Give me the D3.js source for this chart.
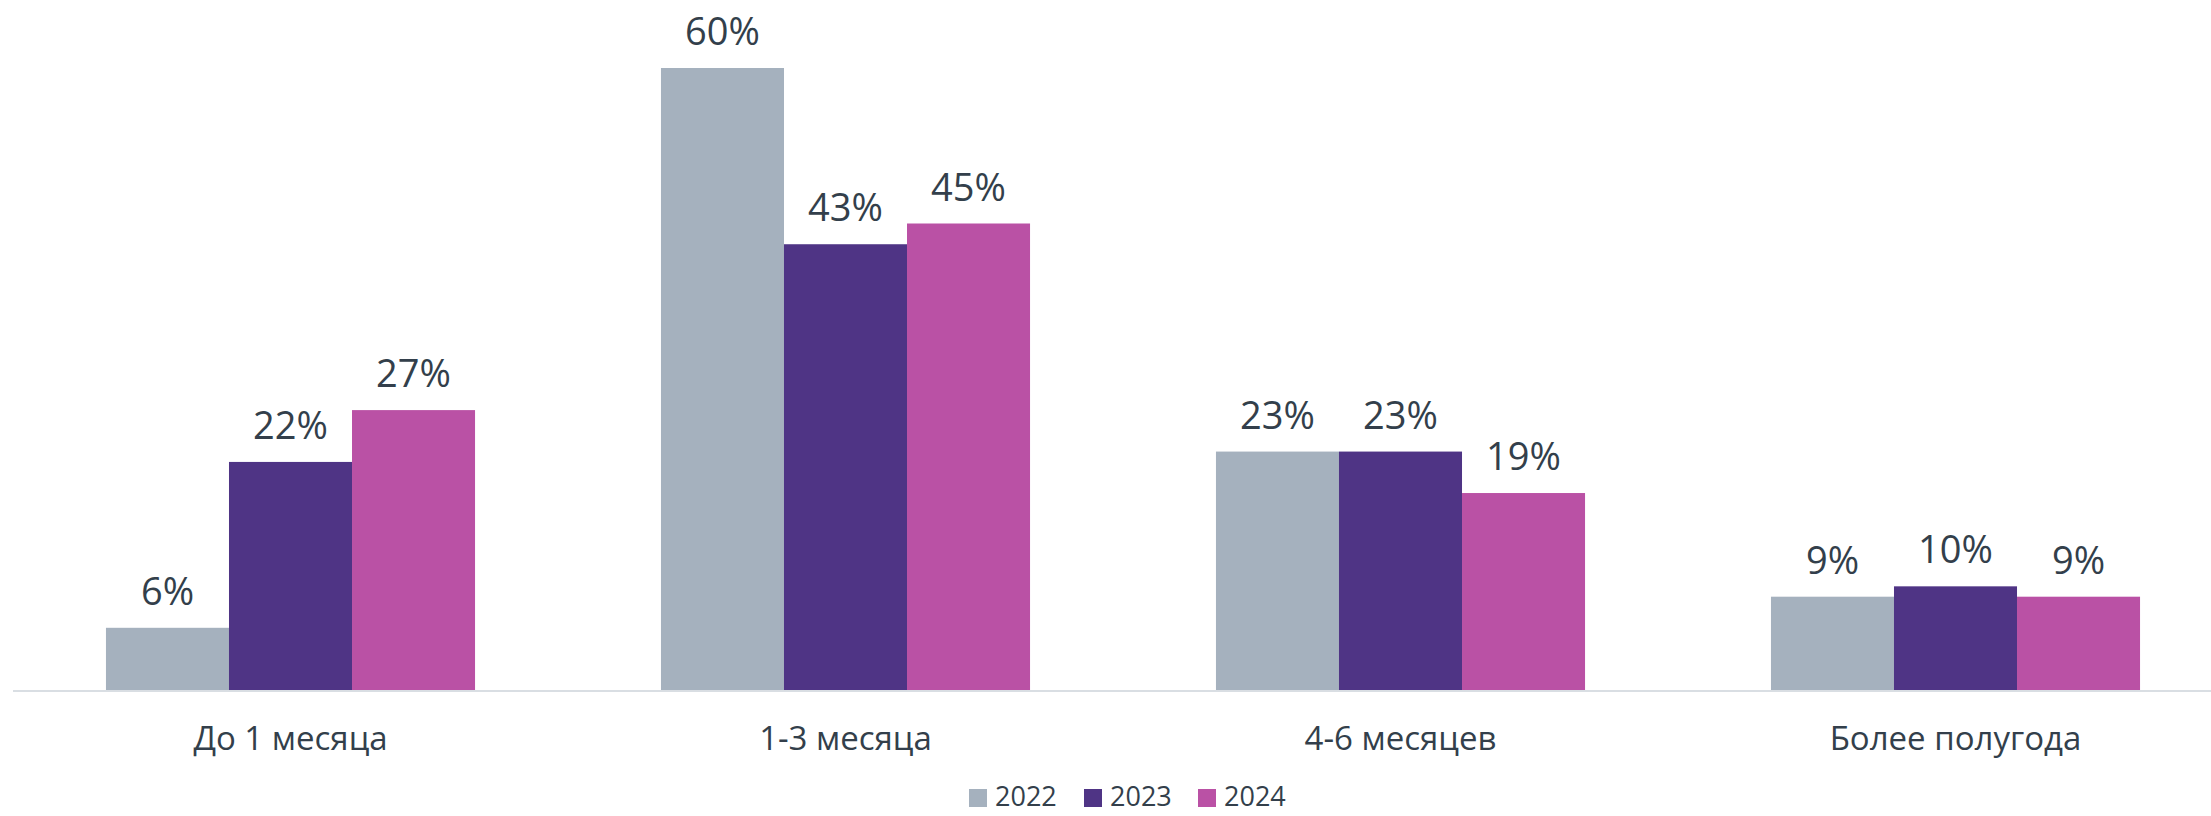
<!DOCTYPE html>
<html lang="ru">
<head>
<meta charset="UTF-8"/>
<title>Срок поиска</title>
<script src="https://d3js.org/d3.v7.min.js"></script>
<style>
	body { margin: 0; background: #fff; }
	svg { display: block; }
	text { font-family: "Open Sans", "Noto Sans", sans-serif; fill: #333f4b; }
</style>
</head>
<body>
<script>
	var w = 2211;
	var h = 816;

	var categories = ["До 1 месяца", "1-3 месяца", "4-6 месяцев", "Более полугода"];
	var years = ["2022", "2023", "2024"];
	var values2022 = [6, 60, 23, 9];
	var values2023 = [22, 43, 23, 10];
	var values2024 = [27, 45, 19, 9];
	var colors = ["#a5b1be", "#4f3485", "#ba51a5"];

	var series = [values2022, values2023, values2024];

	var baseY = 690;

	var x0 = d3.scaleBand()
		.domain(categories)
		.range([13, 2233])
		.paddingInner(0.335)
		.paddingOuter(0.1675);

	var x1 = d3.scaleBand()
		.domain(years)
		.range([0, x0.bandwidth()]);

	var y = d3.scaleLinear()
		.domain([0, 60])
		.range([baseY, 68]);

	var svg = d3.select("body")
		.append("svg")
		.attr("width", w)
		.attr("height", h);

	// axis line
	svg.append("line")
		.attr("x1", 13)
		.attr("x2", w)
		.attr("y1", baseY + 1)
		.attr("y2", baseY + 1)
		.attr("stroke", "#d9dee3")
		.attr("stroke-width", 2);

	var groups = svg.selectAll("g.grp")
		.data(categories)
		.enter()
		.append("g")
		.attr("class", "grp")
		.attr("transform", function(d) { return "translate(" + x0(d) + ",0)"; });

	groups.selectAll("rect")
		.data(function(d, i) {
			return years.map(function(yr, j) { return {yr: yr, v: series[j][i], c: colors[j]}; });
		})
		.enter()
		.append("rect")
		.attr("x", function(d) { return x1(d.yr); })
		.attr("y", function(d) { return y(d.v); })
		.attr("width", x1.bandwidth())
		.attr("height", function(d) { return baseY - y(d.v); })
		.attr("fill", function(d) { return d.c; });

	groups.selectAll("text.val")
		.data(function(d, i) {
			return years.map(function(yr, j) { return {yr: yr, v: series[j][i]}; });
		})
		.enter()
		.append("text")
		.attr("class", "val")
		.attr("x", function(d) { return x1(d.yr) + x1.bandwidth() / 2; })
		.attr("y", function(d) { return y(d.v) - 23; })
		.attr("text-anchor", "middle")
		.style("font-size", "38px")
		.text(function(d) { return d.v + "%"; });

	// category labels
	svg.selectAll("text.cat")
		.data(categories)
		.enter()
		.append("text")
		.attr("class", "cat")
		.attr("x", function(d) { return x0(d) + x0.bandwidth() / 2; })
		.attr("y", 750)
		.attr("text-anchor", "middle")
		.style("font-size", "33px")
		.text(function(d) { return d; });

	// legend
	var legendX = [969, 1084, 1198];
	var legend = svg.selectAll("g.leg")
		.data(years)
		.enter()
		.append("g")
		.attr("class", "leg")
		.attr("transform", function(d, i) { return "translate(" + legendX[i] + ",0)"; });

	legend.append("rect")
		.attr("x", 0)
		.attr("y", 789)
		.attr("width", 18)
		.attr("height", 18)
		.attr("fill", function(d, i) { return colors[i]; });

	legend.append("text")
		.attr("x", 26)
		.attr("y", 806)
		.style("font-size", "27px")
		.text(function(d) { return d; });
</script>
</body>
</html>
